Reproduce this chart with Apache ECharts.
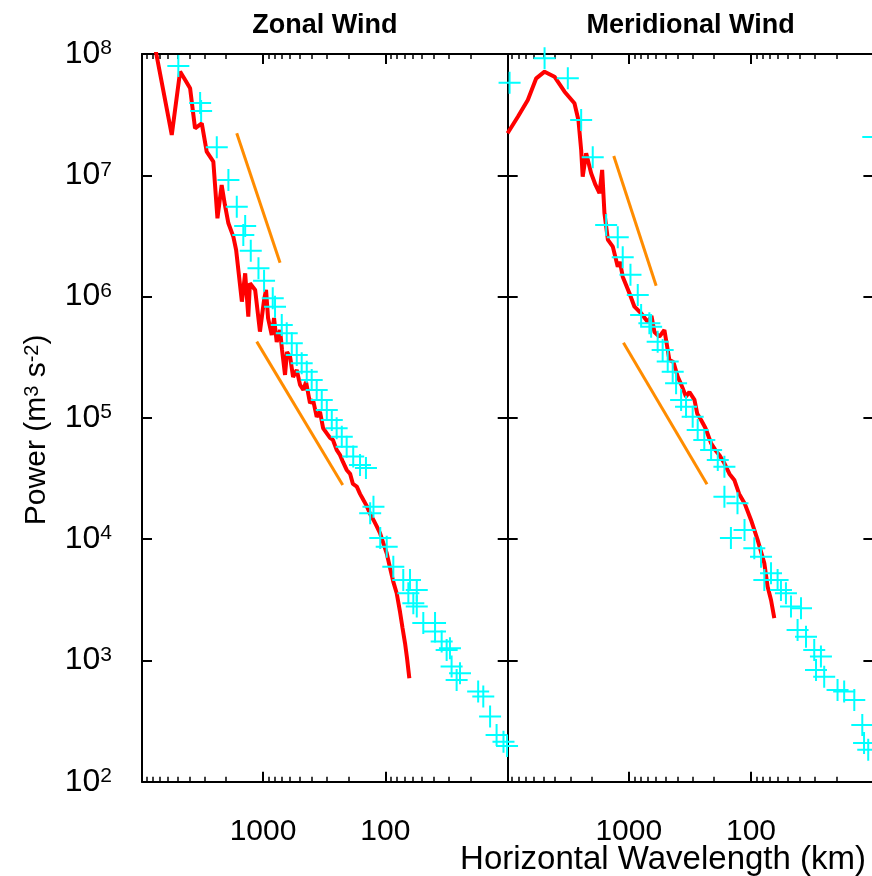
<!DOCTYPE html>
<html>
<head>
<meta charset="utf-8">
<script src="https://cdn.jsdelivr.net/npm/echarts@6/dist/echarts.min.js"></script>
<style>
html,body{margin:0;padding:0;background:#ffffff;}
#chart{width:872px;height:876px;}
</style>
</head>
<body>
<div id="chart"></div>
<script>
// ---------------- data ----------------
const panelTitles = ['Zonal Wind', 'Meridional Wind'];
const xAxisTitle = 'Horizontal Wavelength (km)';
const xTickLabels = [1000, 100];                 // labelled major ticks (km)
const yTickExponents = [2, 3, 4, 5, 6, 7, 8];     // 10^n labels

// Zonal wind: model spectrum (red line)
const zonalModelWavelength = [7710, 5580, 4770, 4430, 3950, 3600, 3170, 2890, 2550, 2360, 2180, 2050, 1920, 1750, 1660, 1490, 1400, 1320, 1280, 1160, 1060, 981, 945, 910, 849, 813, 773, 726, 699, 661, 637, 601, 568, 530, 498, 468, 445, 413, 390, 364, 342, 323, 301, 283, 268, 250, 235, 222, 207, 194, 184, 171, 161, 151, 142, 133, 125, 118, 110.5, 104, 97.4, 91.5, 86.0, 80.7, 75.8, 72.3, 69.0, 66.5, 63.6];
const zonalModelPower = [1.19e8, 2.15e7, 7.15e7, 6.34e7, 5.21e7, 2.44e7, 2.68e7, 1.565e7, 1.295e7, 4.42e6, 8.32e6, 5.69e6, 4.02e6, 3.12e6, 2.42e6, 9.08e5, 1.556e6, 6.83e5, 1.287e6, 1.133e6, 5.14e5, 9.38e5, 1.133e6, 6.66e5, 4.82e5, 6.66e5, 4.22e5, 5.30e5, 3.63e5, 2.26e5, 3.49e5, 3.20e5, 2.17e5, 2.48e5, 1.87e5, 1.70e5, 1.98e5, 1.32e5, 1.405e5, 1.02e5, 1.12e5, 8.25e4, 7.46e4, 6.83e4, 6.57e4, 5.44e4, 4.95e4, 4.33e4, 3.72e4, 3.45e4, 2.85e4, 2.71e4, 2.36e4, 2.10e4, 1.88e4, 1.61e4, 1.44e4, 1.285e4, 1.12e4, 9.30e3, 7.65e3, 5.79e3, 4.44e3, 3.58e3, 2.51e3, 1.85e3, 1.39e3, 1.05e3, 713];

// Zonal wind: observed spectrum (cyan plus markers)
const zonalObsWavelength = [4930, 3270, 3210, 2390, 1920, 1640, 1450, 1400, 1260, 1090, 981, 833, 798, 703, 640, 582, 530, 483, 439, 400, 364, 331, 301, 274, 250, 227, 207, 183, 161, 144, 133, 125, 110, 97.4, 86.0, 71.3, 64.8, 62.8, 59.0, 55.3, 55.3, 48.9, 39.2, 39.2, 34.6, 31.5, 29.6, 28.7, 26.1, 24.5, 17.4, 15.8, 13.9, 12.3, 10.8, 10.1];
const zonalObsPower = [7.96e7, 3.94e7, 3.39e7, 1.70e7, 9.15e6, 5.51e6, 3.22e6, 3.82e6, 2.39e6, 1.71e6, 1.35e6, 9.68e5, 8.25e5, 5.83e5, 4.98e5, 4.12e5, 3.30e5, 2.82e5, 2.40e5, 2.05e5, 1.70e5, 1.405e5, 1.16e5, 9.61e4, 8.21e4, 7.00e4, 5.79e4, 4.79e4, 4.09e4, 3.86e4, 1.635e4, 1.85e4, 1.02e4, 8.67e3, 5.93e3, 4.61e3, 3.58e3, 4.61e3, 2.96e3, 3.81e3, 2.78e3, 2.03e3, 2.03e3, 1.73e3, 1.43e3, 1.22e3, 1.26e3, 889, 691, 784, 553, 503, 344, 243, 214, 197];

// Meridional wind: model spectrum (red line)
const meridionalModelWavelength = [9800, 8070, 6690, 5710, 4880, 4050, 3350, 2780, 2580, 2450, 2380, 2230, 2030, 1870, 1735, 1650, 1580, 1480, 1350, 1230, 1180, 1120, 987, 898, 792, 699, 652, 617, 561, 511, 465, 431, 398, 371, 340, 319, 290, 275, 256, 236, 212, 196, 182, 165, 150, 137, 125, 113, 100, 88.3, 77.8, 73.2, 68.6, 64.5];
const meridionalModelPower = [2.22e7, 3.04e7, 4.18e7, 6.30e7, 7.15e7, 6.50e7, 4.89e7, 3.92e7, 2.86e7, 1.62e7, 9.74e6, 1.52e7, 1.04e7, 8.32e6, 7.11e6, 1.106e7, 4.86e6, 2.93e6, 2.58e6, 1.76e6, 1.93e6, 1.46e6, 1.065e6, 8.25e5, 7.28e5, 6.17e5, 6.92e5, 5.11e5, 4.67e5, 5.30e5, 3.00e5, 2.89e5, 2.19e5, 1.87e5, 1.495e5, 1.635e5, 1.405e5, 1.077e5, 9.61e4, 8.25e4, 6.17e4, 5.44e4, 4.95e4, 4.22e4, 3.45e4, 3.08e4, 2.36e4, 1.98e4, 1.44e4, 9.85e3, 6.33e3, 4.06e3, 3.15e3, 2.23e3];

// Meridional wind: observed spectrum (cyan plus markers)
const meridionalObsWavelength = [9435, 4880, 3150, 2450, 1970, 1530, 1230, 1120, 968, 844, 792, 678, 656, 580, 528, 480, 437, 410, 373, 340, 300, 273, 241, 212, 187, 165, 165, 129, 146, 113, 94.0, 82.8, 77.8, 68.6, 60.6, 56.9, 51.8, 47.1, 39.0, 41.6, 35.5, 30.4, 26.8, 29.4, 25.2, 19.6, 17.3, 14.3, 12.3, 11.9, 11.0, 10.0];
const meridionalObsPower = [5.80e7, 9.22e7, 6.30e7, 2.86e7, 1.41e7, 3.89e6, 3.08e6, 2.11e6, 1.51e6, 1.03e6, 7.05e5, 6.02e5, 5.65e5, 4.25e5, 3.63e5, 2.91e5, 2.40e5, 1.93e5, 1.405e5, 1.237e5, 1.02e5, 7.95e4, 6.57e4, 5.44e4, 4.50e4, 3.96e4, 2.24e4, 1.98e4, 1.02e4, 1.19e4, 8.41e3, 7.17e3, 4.61e3, 5.23e3, 4.61e3, 3.81e3, 3.58e3, 2.78e3, 2.69e3, 1.78e3, 1.57e3, 1.22e3, 1.075e3, 835, 735, 571, 553, 472, 294, 208, 183, 2.07e7];

// Reference slope lines (orange): k^-3 (upper) and k^-5/3 (lower)
const zonalSteepWavelength = [1641, 726];
const zonalSteepPower = [2.22e7, 1.90e6];
const zonalShallowWavelength = [1126, 223];
const zonalShallowPower = [4.25e5, 2.80e4];
const meridionalSteepWavelength = [1326, 597];
const meridionalSteepPower = [1.44e7, 1.23e6];
const meridionalShallowWavelength = [1105, 229];
const meridionalShallowPower = [4.17e5, 2.84e4];

// ---------------- chart ----------------
const FONT = 'Liberation Sans';
const X_LOG_MIN = 0.999, X_LOG_MAX = 3.99;   // axis range in log10(km)
const Y_LOG_MIN = 2, Y_LOG_MAX = 8;

const majorX = xTickLabels.map(v => Math.log10(v));
const minorX = [];
[10, 100, 1000].forEach(d => { for (let k = 2; k <= 9; k++) { const v = Math.log10(k * d); if (v > X_LOG_MIN && v < X_LOG_MAX) minorX.push(v); } });

const PLUS = 'path://M10,0H12V10H22V12H12V22H10V12H0V10H10Z';

function pts(xs, ys) { return xs.map((x, i) => [Math.log10(x), Math.log10(ys[i])]); }

const gridW = 365.7, gridH = 727.7, gridTop = 54;
const grids = [
  {left: 142, top: gridTop, width: gridW, height: gridH, containLabel: false, outerBoundsMode: 'none'},
  {left: 507.7, top: gridTop, width: gridW, height: gridH, containLabel: false, outerBoundsMode: 'none'}
];

const black = '#000000';
function makeXAxes(gi) {
  const common = {type: 'value', gridIndex: gi, min: X_LOG_MIN, max: X_LOG_MAX, inverse: true,
    splitLine: {show: false}, minorTick: {show: false}, axisPointer: {show: false}};
  const majorTick = {show: true, inside: true, length: 10, customValues: majorX, lineStyle: {color: black, width: 2}};
  const minorTick = {show: true, inside: true, length: 5, customValues: minorX, lineStyle: {color: black, width: 1.5}};
  const line = {show: true, onZero: false, lineStyle: {color: black, width: 2}};
  return [
    Object.assign({}, common, {position: 'bottom', axisLine: line, axisTick: majorTick,
      axisLabel: {show: true, customValues: majorX, margin: 35, fontSize: 30, fontFamily: FONT, color: black,
        formatter: v => String(Math.round(Math.pow(10, v)))},
      name: gi === 1 ? xAxisTitle : '', nameLocation: 'middle', nameGap: 62, nameMoveOverlap: false,
      nameTextStyle: {fontSize: 33, fontFamily: FONT, color: black, padding: [0, 55, 0, 0]}}),
    Object.assign({}, common, {position: 'bottom', axisLine: {show: false}, axisTick: minorTick, axisLabel: {show: false}}),
    Object.assign({}, common, {position: 'top', axisLine: line, axisTick: majorTick, axisLabel: {show: false},
      name: panelTitles[gi], nameLocation: 'middle', nameGap: 15,
      nameTextStyle: {fontSize: 27, fontWeight: 'bold', fontFamily: FONT, color: black}}),
    Object.assign({}, common, {position: 'top', axisLine: {show: false}, axisTick: minorTick, axisLabel: {show: false}})
  ];
}
function makeYAxes(gi) {
  const common = {type: 'value', gridIndex: gi, min: Y_LOG_MIN, max: Y_LOG_MAX, interval: 1,
    splitLine: {show: false}, axisPointer: {show: false},
    axisLine: {show: true, onZero: false, lineStyle: {color: black, width: 2}},
    axisTick: {show: true, inside: true, length: 10, lineStyle: {color: black, width: 2}}};
  return [
    Object.assign({}, common, {position: 'left',
      axisLabel: {show: gi === 0, margin: 30, customValues: yTickExponents,
        formatter: v => '{a|10}{b|' + v + '}',
        rich: {a: {fontSize: 32, fontFamily: FONT, color: black},
               b: {fontSize: 21, fontFamily: FONT, color: black, verticalAlign: 'top'}}},
      name: gi === 0 ? '{t|Power (m}{s|3}{t| s}{s|-2}{t|)}' : '', nameLocation: 'middle', nameRotate: 90, nameGap: 90,
      nameTextStyle: {padding: [0, 24, 0, 0],
        rich: {t: {fontSize: 30, fontFamily: FONT, color: black},
               s: {fontSize: 20, fontFamily: FONT, color: black, verticalAlign: 'top'}}}}),
    Object.assign({}, common, {position: 'right', axisLabel: {show: false}})
  ];
}

const xAxes = makeXAxes(0).concat(makeXAxes(1));
const yAxes = makeYAxes(0).concat(makeYAxes(1));

function modelSeries(xi, yi, xs, ys) {
  return {type: 'line', xAxisIndex: xi, yAxisIndex: yi, data: pts(xs, ys), symbol: 'none', showSymbol: false,
    lineStyle: {color: '#ff0000', width: 4}, z: 2, silent: true};
}
function obsSeries(xi, yi, xs, ys) {
  return {type: 'scatter', xAxisIndex: xi, yAxisIndex: yi, data: pts(xs, ys), symbol: PLUS, symbolSize: 22,
    itemStyle: {color: '#00ffff', opacity: 1}, clip: false, z: 3, silent: true};
}
function slopeSeries(xi, yi, xs, ys) {
  return {type: 'line', xAxisIndex: xi, yAxisIndex: yi, data: pts(xs, ys), symbol: 'none', showSymbol: false,
    lineStyle: {color: '#ff8c00', width: 3}, z: 2, silent: true};
}

const option = {
  animation: false,
  backgroundColor: '#ffffff',
  grid: grids,
  xAxis: xAxes,
  yAxis: yAxes,
  series: [
    modelSeries(0, 0, zonalModelWavelength, zonalModelPower),
    obsSeries(0, 0, zonalObsWavelength, zonalObsPower),
    slopeSeries(0, 0, zonalSteepWavelength, zonalSteepPower),
    slopeSeries(0, 0, zonalShallowWavelength, zonalShallowPower),
    modelSeries(4, 2, meridionalModelWavelength, meridionalModelPower),
    obsSeries(4, 2, meridionalObsWavelength, meridionalObsPower),
    slopeSeries(4, 2, meridionalSteepWavelength, meridionalSteepPower),
    slopeSeries(4, 2, meridionalShallowWavelength, meridionalShallowPower)
  ]
};

const chart = echarts.init(document.getElementById('chart'), null, {renderer: 'canvas'});
chart.setOption(option);
</script>
</body>
</html>
